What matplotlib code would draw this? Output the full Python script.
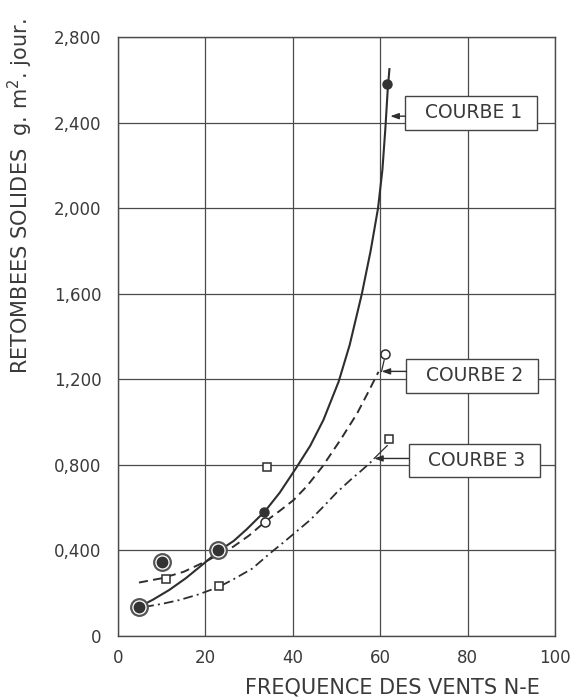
import matplotlib
matplotlib.use("Agg")
import matplotlib.pyplot as plt
from matplotlib.patches import Rectangle

plt.rcParams['font.family'] = ['DejaVu Sans']
plt.rcParams['lines.scale_dashes'] = False

INK = '#2e2e2e'
TXT = '#3a3a3a'

# Courbe 1 (trait plein)
courbe1_x = [4.8, 8.0, 11.7, 15.5, 19.7, 23.2, 26.5, 29.5, 33.7, 37.0, 40.9, 44.0, 47.0, 50.5, 53.0, 55.8, 57.8, 59.5, 60.5, 61.2, 61.7, 62.1]
courbe1_y = [0.136, 0.17, 0.215, 0.27, 0.34, 0.40, 0.445, 0.50, 0.585, 0.67, 0.79, 0.89, 1.01, 1.19, 1.36, 1.60, 1.80, 2.00, 2.18, 2.38, 2.55, 2.65]

# Courbe 2 (tirets)
courbe2_x = [4.8, 10.0, 15.0, 20.2, 26.4, 30.0, 33.7, 37.0, 40.2, 43.2, 46.7, 50.9, 54.7, 57.5, 59.6]
courbe2_y = [0.25, 0.27, 0.30, 0.35, 0.418, 0.47, 0.535, 0.585, 0.636, 0.70, 0.79, 0.917, 1.04, 1.15, 1.235]

# Courbe 3 (trait mixte)
courbe3_x = [6.0, 10.0, 14.0, 18.5, 23.1, 26.4, 30.7, 34.8, 38.0, 41.5, 44.0, 47.0, 50.0, 53.2, 55.5, 57.7, 58.5]
courbe3_y = [0.136, 0.15, 0.168, 0.195, 0.23, 0.265, 0.315, 0.387, 0.44, 0.50, 0.543, 0.605, 0.67, 0.73, 0.77, 0.81, 0.83]

# Mesures
mesures1_x = [4.8, 10.1, 22.9, 33.5, 61.6]
mesures1_y = [0.136, 0.346, 0.40, 0.58, 2.58]
mesures2_x = [4.8, 10.1, 22.9, 33.7, 61.2]
mesures2_y = [0.136, 0.346, 0.40, 0.535, 1.32]
mesures3_x = [11.0, 23.1, 34.1, 61.9]
mesures3_y = [0.267, 0.234, 0.79, 0.92]

x_ticks = [0, 20, 40, 60, 80, 100]
y_ticks = [0, 0.4, 0.8, 1.2, 1.6, 2.0, 2.4, 2.8]
y_ticklabels = ['0', '0,400', '0,800', '1,200', '1,600', '2,000', '2,400', '2,800']

fig = plt.figure(figsize=(5.76, 7.0), dpi=100)
ax = fig.add_axes([0.2049, 0.0914, 0.7587, 0.8557])
ax.set_xlim(0, 100)
ax.set_ylim(0, 2.8)

ax.set_xticks(x_ticks)
ax.set_yticks(y_ticks)
ax.set_yticklabels(y_ticklabels)
ax.tick_params(length=0, labelsize=12, labelcolor=TXT)
ax.tick_params(axis='x', pad=9)
ax.tick_params(axis='y', pad=12)
ax.grid(True, color='#4a4a4a', linewidth=0.9, zorder=0)
for s in ax.spines.values():
    s.set_color('#4a4a4a')
    s.set_linewidth(1.0)

ax.plot(courbe1_x, courbe1_y, color=INK, lw=1.5, zorder=3)
ax.plot(courbe2_x, courbe2_y, color=INK, lw=1.4, dashes=(6.5, 3.8), zorder=3)
ax.plot(courbe3_x, courbe3_y, color=INK, lw=1.3, dashes=(7, 3, 1.4, 3), zorder=3)


def coincide(xa, ya, xs, ys):
    return any(abs(xa - xb) < 0.05 and abs(ya - yb) < 0.005 for xb, yb in zip(xs, ys))


# points communs aux séries 1 et 2 : cercle entourant le point plein
for x2, y2 in zip(mesures2_x, mesures2_y):
    if coincide(x2, y2, mesures1_x, mesures1_y):
        ax.plot([x2], [y2], 'o', ms=12, mfc='white', mec='#555555', mew=1.6, zorder=4)
        ax.plot([x2], [y2], 'o', ms=7.5, mfc='#333333', mec='#333333', zorder=5)
    else:
        ax.plot([x2], [y2], 'o', ms=6.5, mfc='white', mec=INK, mew=1.1, zorder=5)
for x1, y1 in zip(mesures1_x, mesures1_y):
    if not coincide(x1, y1, mesures2_x, mesures2_y):
        ax.plot([x1], [y1], 'o', ms=6.5, mfc='#333333', mec='#333333', zorder=5)
ax.plot(mesures3_x, mesures3_y, 's', ms=6, mfc='white', mec=INK, mew=1.1,
        linestyle='none', zorder=5)

# étiquettes des courbes
labels = [('COURBE 1', 65.7, 2.367, 30.1, 0.159, (62.3, 2.43), None),
          ('COURBE 2', 66.0, 1.137, 30.0, 0.159, (60.3, 1.237), (61.2, 1.32)),
          ('COURBE 3', 66.5, 0.744, 30.0, 0.154, (58.6, 0.83), (61.9, 0.92))]
for text, x0, y0, w, h, tip, mark in labels:
    ax.add_patch(Rectangle((x0, y0), w, h, facecolor='white', edgecolor='#444444',
                           lw=1.0, zorder=6))
    ax.text(x0 + w / 2 + 0.6, y0 + h / 2, text, ha='center', va='center',
            fontsize=13.5, color=TXT, zorder=7)
    ax.annotate('', xy=tip, xytext=(x0, tip[1]),
                arrowprops=dict(arrowstyle='-|>,head_length=0.5,head_width=0.18',
                                color=INK, lw=1.0, shrinkA=0, shrinkB=0), zorder=6)
    if mark is not None:
        ax.plot([tip[0], mark[0] - 0.3], [tip[1], mark[1] - 0.03], color=INK, lw=0.9, zorder=4)

fig.text(20 / 576, 1 - 196 / 700, 'RETOMBEES SOLIDES  g. m$^{2}$. jour.', rotation=90,
         ha='center', va='center', fontsize=15, color=TXT)
fig.text(392 / 576, 1 - 687 / 700, 'FREQUENCE DES VENTS N-E', ha='center', va='center',
         fontsize=15, color=TXT)

fig.savefig('out.png', dpi=100, facecolor='white')
